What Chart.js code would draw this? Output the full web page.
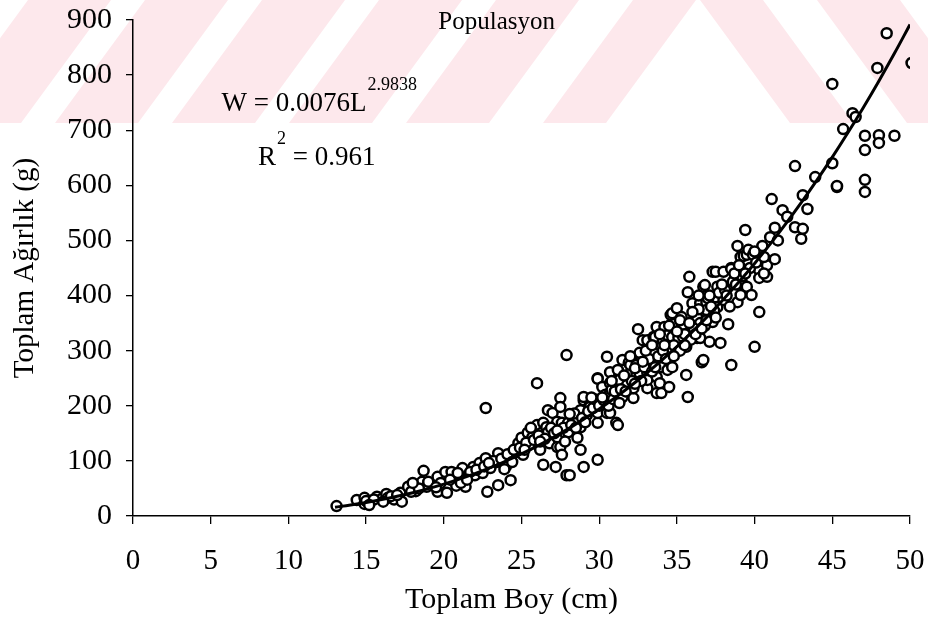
<!DOCTYPE html>
<html>
<head>
<meta charset="utf-8">
<script src="https://cdn.jsdelivr.net/npm/chart.js@4"></script>
<style>
  html, body { margin: 0; padding: 0; background: #fff; }
  #wrap { width: 928px; height: 639px; }
</style>
</head>
<body>
<div id="wrap"><canvas id="c" width="928" height="639"></canvas></div>
<script>
// Total length (cm) and total weight (g) of each fish in the sample
const lengthCm = [
  13.1,14.4,14.9,14.9,15.3,15.7,16.0,16.3,16.4,16.8,17.2,17.3,17.7,18.2,18.6,18.7,18.9,19.3,19.6,19.6,
  20.1,20.2,20.5,20.6,20.8,21.0,21.2,21.4,21.6,21.9,22.0,22.3,22.5,22.7,22.7,22.8,23.0,23.4,23.5,23.5,
  23.8,24.0,24.3,24.3,24.7,24.8,25.0,25.1,25.4,25.5,25.7,26.0,26.0,26.2,26.3,26.4,26.4,26.6,26.7,26.7,
  27.0,26.8,27.2,27.3,27.3,27.3,27.5,27.5,27.5,27.6,27.6,27.8,27.9,27.9,28.0,28.0,28.1,28.3,28.6,28.6,
  28.8,28.8,28.8,29.0,29.0,29.0,29.2,29.4,29.4,29.9,29.9,29.9,29.9,29.9,29.9,30.1,30.2,30.4,30.5,30.5,
  30.7,30.7,30.7,30.7,30.8,31.1,31.1,31.2,31.2,31.3,31.5,31.5,31.8,31.9,32.0,32.0,32.2,32.2,32.4,32.4,
  32.5,32.6,32.6,32.6,32.8,33.1,33.1,33.1,33.1,33.1,33.3,33.5,33.5,33.6,33.7,33.7,33.7,33.9,33.9,34.0,
  34.0,34.1,34.2,34.4,34.4,34.4,34.5,34.6,34.6,34.7,34.7,34.7,34.9,35.0,35.1,35.3,35.3,35.4,35.4,35.6,
  35.6,35.7,35.7,35.8,36.0,36.0,36.2,36.3,36.3,36.5,36.5,36.5,36.6,36.7,36.7,36.8,36.9,36.9,36.9,37.1,
  37.3,37.3,37.3,37.5,37.5,37.6,37.6,37.8,38.0,38.0,38.3,38.5,38.5,38.5,38.6,38.9,38.9,39.1,39.1,39.3,
  39.3,39.4,39.5,39.5,39.6,39.8,39.9,40.0,40.3,40.3,40.3,40.5,40.8,40.8,41.0,41.1,41.3,41.3,41.8,42.1,
  42.6,42.6,43.0,43.1,43.1,43.4,43.9,45.0,45.0,45.3,45.3,45.7,46.3,46.5,47.1,47.1,47.1,47.1,47.9,48.0,
  48.0,48.5,49.0,50.1,
  15.0,15.5,16.6,17.0,17.9,18.4,19.0,19.8,20.4,21.1,21.7,22.1,22.6,23.2,23.7,24.1,24.5,24.9,25.3,25.8,
  26.1,26.5,26.9,27.1,27.7,28.2,28.4,28.9,29.3,29.6,29.7,30.0,30.3,30.6,30.9,31.0,31.4,31.7,32.1,32.3,
  32.7,32.9,33.2,33.4,33.8,34.1,34.3,34.8,35.2,35.5,35.9,36.1,36.4,36.8,37.0,37.4,37.7,38.1,38.4,38.8,
  39.2,39.7,40.1,40.6,
  30.2,30.8,31.3,31.6,32.0,32.3,32.8,33.0,33.4,33.6,33.9,34.2,34.5,34.8,35.0,35.2,35.5,35.8,36.0,36.2,
  36.4,36.6,36.9,37.1,37.2,37.5,37.9,38.2,38.7,39.0,39.4,40.0,40.6,41.5,27.3,27.8,28.1,28.5,29.1,29.5,
  26.2,25.6,25.2,24.4,23.9,22.9,21.5,20.9,19.5,18.0,16.1,15.2
];
const weightG = [
  18,29,33,22,27,35,31,40,33,30,42,26,53,45,62,82,53,58,71,44,
  80,42,80,65,55,69,87,53,72,89,74,96,78,196,105,44,87,98,114,56,
  98,90,107,65,116,132,142,111,151,129,143,165,241,120,151,169,93,161,152,192,
  187,132,89,171,125,143,214,198,125,111,169,151,74,292,169,152,74,178,142,174,
  120,161,192,89,210,216,183,201,198,102,192,169,250,249,187,207,234,220,187,289,
  187,261,241,223,229,247,169,165,265,247,283,216,238,278,259,274,214,232,256,274,
  339,259,292,296,319,319,301,259,232,247,274,325,296,325,343,252,223,279,241,270,
  223,319,343,298,265,328,234,365,301,325,270,368,307,377,323,341,361,325,347,256,
  307,216,406,434,386,343,361,361,323,323,350,386,279,416,283,419,388,368,374,316,
  443,359,352,397,443,416,379,314,443,392,348,450,274,448,425,490,388,401,470,419,
  472,519,474,416,483,401,474,307,446,432,370,490,455,434,506,575,523,466,555,543,
  524,635,503,521,582,557,615,640,784,597,599,702,731,724,690,664,610,588,813,691,
  677,876,690,822,
  27,30,36,38,44,50,62,60,66,60,80,84,90,100,104,112,120,124,133,138,
  146,140,160,150,160,165,186,178,190,196,212,200,210,200,212,226,230,226,245,268,
  245,270,285,262,290,300,285,310,300,330,320,340,375,345,395,372,405,410,380,420,
  435,450,460,470,
  215,245,205,255,290,240,280,300,310,270,330,310,345,290,335,355,310,350,370,330,
  400,340,355,400,380,360,420,400,440,455,440,480,440,500,155,135,185,160,170,215,
  135,160,120,98,85,96,66,78,52,60,26,20
];

// Power curve W = 0.0076 L^2.9838, tabulated at whole centimetres
const fitLength = [13,14,15,16,17,18,19,20,21,22,23,24,25,26,27,28,29,30,31,32,
                   33,34,35,36,37,38,39,40,41,42,43,44,45,46,47,48,49,50];
const fitWeight = [16.0,20.0,24.6,29.8,35.7,42.3,49.7,57.9,67.0,77.0,87.9,99.8,112.7,126.7,141.8,158.1,175.5,194.2,214.2,235.4,
                   258.1,282.1,307.6,334.6,363.1,393.2,424.9,458.2,493.2,530.0,568.5,608.9,651.1,695.3,741.3,789.4,839.5,891.7];

const xTicks = [0, 5, 10, 15, 20, 25, 30, 35, 40, 45, 50];
const yTicks = [0, 100, 200, 300, 400, 500, 600, 700, 800, 900];

const titleText = 'Populasyon';
const xAxisTitle = 'Toplam Boy (cm)';
const yAxisTitle = 'Toplam Ağırlık (g)';
const equationMain = 'W = 0.0076L';
const equationExp = '2.9838';
const rSquaredBase = 'R';
const rSquaredExp = '2';
const rSquaredRest = ' = 0.961';

const SERIF = '"Liberation Serif", "Times New Roman", serif';

// Light pink diagonal stripes across the top band of the page
const stripes = {
  id: 'stripes',
  beforeDraw(chart) {
    const ctx = chart.ctx;
    const bandH = 123, shift = 90;
    ctx.save();
    ctx.beginPath();
    ctx.rect(0, 0, chart.width, bandH);
    ctx.clip();
    ctx.fillStyle = '#fde8ec';
    // bands leaning right ("/") on the left part
    [[633, 63], [496, 83], [379, 83], [262, 83], [145, 83], [28, 83], [-89, 83]].forEach(([top, w]) => {
      ctx.beginPath();
      ctx.moveTo(top, 0); ctx.lineTo(top + w, 0);
      ctx.lineTo(top + w - shift, bandH); ctx.lineTo(top - shift, bandH);
      ctx.closePath(); ctx.fill();
    });
    // bands leaning left ("\") on the right part
    [[700, 63], [817, 83]].forEach(([top, w]) => {
      ctx.beginPath();
      ctx.moveTo(top, 0); ctx.lineTo(top + w, 0);
      ctx.lineTo(top + w + shift, bandH); ctx.lineTo(top + shift, bandH);
      ctx.closePath(); ctx.fill();
    });
    ctx.restore();
  }
};

const annotations = {
  id: 'annotations',
  afterDatasetsDraw(chart) {
    const ctx = chart.ctx;
    const xs = chart.scales.x, ys = chart.scales.y;
    const area = chart.chartArea;
    ctx.save();
    ctx.fillStyle = '#000';
    ctx.textBaseline = 'alphabetic';

    // chart title inside the plot
    ctx.font = '25px ' + SERIF;
    ctx.textAlign = 'center';
    ctx.fillText(titleText, xs.getPixelForValue(23.4), ys.getPixelForValue(884));

    // horizontal axis title, a little left of the axis centre
    ctx.font = '30px ' + SERIF;
    ctx.textBaseline = 'middle';
    ctx.fillText(xAxisTitle, (area.left + area.right) / 2 - 10, 600);
    ctx.textBaseline = 'alphabetic';

    // fitted equation
    ctx.textAlign = 'left';
    let x0 = xs.getPixelForValue(5.7);
    let yb = ys.getPixelForValue(735);
    ctx.font = '27px ' + SERIF;
    ctx.fillText(equationMain, x0, yb);
    let w = ctx.measureText(equationMain).width;
    ctx.font = '18px ' + SERIF;
    ctx.fillText(equationExp, x0 + w + 1, yb - 21);

    x0 = xs.getPixelForValue(8.05);
    yb = ys.getPixelForValue(637);
    ctx.font = '27px ' + SERIF;
    ctx.fillText(rSquaredBase, x0, yb);
    w = ctx.measureText(rSquaredBase).width;
    ctx.font = '18px ' + SERIF;
    ctx.fillText(rSquaredExp, x0 + w + 1, yb - 21);
    const w2 = ctx.measureText(rSquaredExp).width;
    ctx.font = '27px ' + SERIF;
    ctx.fillText(rSquaredRest, x0 + w + w2 + 1, yb);
    ctx.restore();
  }
};

new Chart(document.getElementById('c'), {
  type: 'scatter',
  data: {
    datasets: [
      {
        type: 'line',
        label: 'W = 0.0076L^2.9838',
        data: fitLength.map((l, i) => ({ x: l, y: fitWeight[i] })),
        borderColor: '#000',
        borderWidth: 3,
        pointRadius: 0,
        tension: 0.4,
        fill: false,
        order: 0
      },
      {
        label: 'Populasyon',
        data: lengthCm.map((l, i) => ({ x: l, y: weightG[i] })),
        pointRadius: 5,
        pointBorderWidth: 2.5,
        borderColor: '#000',
        backgroundColor: '#fff',
        pointHoverRadius: 5,
        order: 1
      }
    ]
  },
  options: {
    responsive: false,
    animation: false,
    devicePixelRatio: 1,
    layout: { padding: { top: 20, right: 18, left: 0, bottom: 0 } },
    plugins: {
      legend: { display: false },
      tooltip: { enabled: false },
      title: { display: false }
    },
    scales: {
      x: {
        type: 'linear',
        min: 0, max: 50,
        afterBuildTicks(scale) { scale.ticks = xTicks.map(v => ({ value: v })); },
        afterFit(scale) {
          scale.height = 123;
          scale.paddingLeft = 0;
          scale.paddingRight = 0;
        },
        ticks: {
          color: '#000',
          font: { family: SERIF, size: 29 },
          padding: 20,
          maxRotation: 0,
          autoSkip: false
        },
        grid: { drawOnChartArea: false, drawTicks: true, tickLength: 8, color: '#000', lineWidth: 1.3 },
        border: { color: '#000', width: 1.5 },
        title: { display: false }
      },
      y: {
        type: 'linear',
        min: 0, max: 900,
        afterBuildTicks(scale) { scale.ticks = yTicks.map(v => ({ value: v })); },
        afterFit(scale) {
          scale.width = 133;
          scale.paddingTop = 0;
          scale.paddingBottom = 0;
        },
        ticks: {
          color: '#000',
          font: { family: SERIF, size: 30 },
          padding: 14,
          autoSkip: false
        },
        grid: { drawOnChartArea: false, drawTicks: true, tickLength: 7, color: '#000', lineWidth: 1.3 },
        border: { color: '#000', width: 1.5 },
        title: {
          display: true,
          text: yAxisTitle,
          color: '#000',
          font: { family: SERIF, size: 29 },
          padding: { top: 8, bottom: 0 }
        }
      }
    }
  },
  plugins: [stripes, annotations]
});
</script>
</body>
</html>
